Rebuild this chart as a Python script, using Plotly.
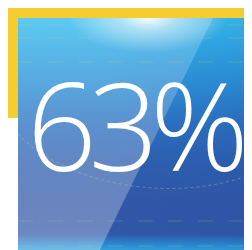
import plotly.graph_objects as go

# Content
value_label = "63%"

# Palette
yellow = "#f6cd30"
base_stops = [
    [0.00, "#38bff0"],
    [0.15, "#2fa6e2"],
    [0.30, "#2c8cd4"],
    [0.45, "#2c70c0"],
    [0.60, "#2e60b0"],
    [0.78, "#3157a8"],
    [0.90, "#3158a8"],
    [0.94, "#2b86cf"],
    [0.97, "#31a6df"],
    [1.00, "#3ab2e7"],
]

W, H = 252, 250

fig = go.Figure()

fig.add_trace(go.Scatter(
    x=[10, W, W, 10, 10], y=[10, 10, H, H, 10],
    mode="lines", line=dict(width=0), fill="toself",
    fillgradient=dict(type="vertical", start=10, stop=H, colorscale=base_stops),
    hoverinfo="skip", showlegend=False,
))

fig.add_trace(go.Scatter(
    x=[10, W, W, 10, 10], y=[10, 10, H, H, 10],
    mode="lines", line=dict(width=0), fill="toself",
    fillgradient=dict(type="horizontal", start=90, stop=W,
                      colorscale=[[0, "rgba(20,60,150,0)"], [1, "rgba(20,60,150,0.12)"]]),
    hoverinfo="skip", showlegend=False,
))

fig.add_trace(go.Scatter(
    x=[10, 205, 88, 10, 10], y=[10, 10, H, H, 10],
    mode="lines", line=dict(width=0), fill="toself",
    fillgradient=dict(type="vertical", start=10, stop=H,
                      colorscale=[[0, "rgba(255,255,255,0.18)"], [0.4, "rgba(255,255,255,0.22)"],
                                  [1, "rgba(255,255,255,0.30)"]]),
    hoverinfo="skip", showlegend=False,
))

fig.add_trace(go.Scatter(
    x=[60, 220, 220, 60, 60], y=[-25, -25, 45, 45, -25],
    mode="lines", line=dict(width=0), fill="toself",
    fillgradient=dict(type="radial",
                      colorscale=[[0, "rgba(255,255,255,0.95)"], [0.35, "rgba(255,255,255,0.5)"],
                                  [1, "rgba(255,255,255,0)"]]),
    hoverinfo="skip", showlegend=False,
))

shapes = []
for yy in [17, 30, 54, 213, 238]:
    shapes.append(dict(type="line", xref="x", yref="y", x0=10, x1=W, y0=yy, y1=yy,
                       line=dict(color="rgba(200,220,120,0.22)", width=1, dash="longdash"),
                       layer="above"))
shapes.append(dict(type="path", xref="x", yref="y",
                   path="M 10,126 C 60,178 170,198 252,163",
                   line=dict(color="rgba(200,220,130,0.35)", width=1, dash="dot"), layer="above"))
shapes.append(dict(type="rect", xref="x", yref="y", x0=0, x1=W, y0=0, y1=10,
                   fillcolor=yellow, line=dict(width=0), layer="above"))
shapes.append(dict(type="rect", xref="x", yref="y", x0=0, x1=10, y0=0, y1=110,
                   fillcolor=yellow, line=dict(width=0), layer="above"))
shapes.append(dict(type="rect", xref="x", yref="y", x0=0, x1=10, y0=110, y1=H,
                   fillcolor="white", line=dict(width=0), layer="above"))

fig.add_annotation(x=126, y=116, xref="x", yref="y",
                   text='<span style="letter-spacing:-8px">' + value_label + '</span>',
                   showarrow=False,
                   font=dict(family="Open Sans", size=122, color="white", weight=300),
                   xanchor="center", yanchor="middle")

fig.update_layout(
    width=W, height=H, margin=dict(l=0, r=0, t=0, b=0),
    paper_bgcolor="white", plot_bgcolor="white", shapes=shapes,
    xaxis=dict(range=[0, W], visible=False, fixedrange=True),
    yaxis=dict(range=[H, 0], visible=False, fixedrange=True),
    showlegend=False,
)

fig.write_html("out.html")
